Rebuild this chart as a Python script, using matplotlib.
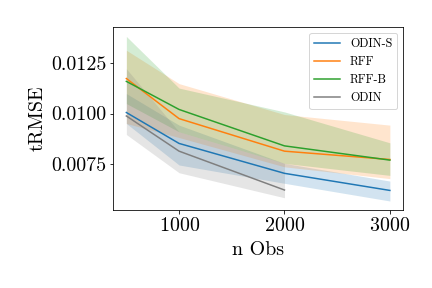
import matplotlib
matplotlib.use("Agg")
import matplotlib.pyplot as plt
from matplotlib.ticker import FormatStrFormatter

plt.rcParams['font.family'] = 'serif'
plt.rcParams['font.serif'] = ['cmr10']
plt.rcParams['mathtext.fontset'] = 'cm'
plt.rcParams['axes.formatter.use_mathtext'] = True
plt.rcParams['axes.unicode_minus'] = False

n_obs = [500, 1000, 2000, 3000]
n_obs_odin = [500, 1000, 2000]

odin_s_mean = [0.01005, 0.00853, 0.00706, 0.00622]
odin_s_lo = [0.00951, 0.00747, 0.00657, 0.00570]
odin_s_hi = [0.01098, 0.00943, 0.00755, 0.00668]

rff_mean = [0.01172, 0.00975, 0.00815, 0.00774]
rff_lo = [0.00951, 0.00882, 0.00738, 0.00680]
rff_hi = [0.01311, 0.01147, 0.00995, 0.00943]

rffb_mean = [0.01158, 0.01020, 0.00841, 0.00771]
rffb_lo = [0.01049, 0.00910, 0.00755, 0.00696]
rffb_hi = [0.01379, 0.01125, 0.01008, 0.00856]

odin_mean = [0.00988, 0.00815, 0.00624]
odin_lo = [0.00897, 0.00709, 0.00586]
odin_hi = [0.01220, 0.00910, 0.00755]

fig = plt.figure(figsize=(6, 4), dpi=72)
ax = fig.add_axes([0.262, 0.271, 0.671, 0.635])

series = [
    ("ODIN-S", n_obs, odin_s_mean, odin_s_lo, odin_s_hi, "tab:blue"),
    ("RFF", n_obs, rff_mean, rff_lo, rff_hi, "tab:orange"),
    ("RFF-B", n_obs, rffb_mean, rffb_lo, rffb_hi, "tab:green"),
    ("ODIN", n_obs_odin, odin_mean, odin_lo, odin_hi, "tab:gray"),
]
for name, x, m, lo, hi, c in series:
    ax.plot(x, m, color=c, label=name, lw=1.5)
    ax.fill_between(x, lo, hi, color=c, alpha=0.2, lw=0)

ax.set_xlim(375, 3125)
ax.set_ylim(0.00526, 0.01425)
ax.set_xticks([1000, 2000, 3000])
ax.set_yticks([0.0075, 0.0100, 0.0125])
ax.yaxis.set_major_formatter(FormatStrFormatter('%.4f'))
ax.tick_params(labelsize=20)
ax.set_xlabel("n Obs", fontsize=20, labelpad=6)
ax.set_ylabel("tRMSE", fontsize=20)
ax.legend(loc="upper right", fontsize=12, handlelength=2.2)

fig.savefig("out.png", dpi=72)
